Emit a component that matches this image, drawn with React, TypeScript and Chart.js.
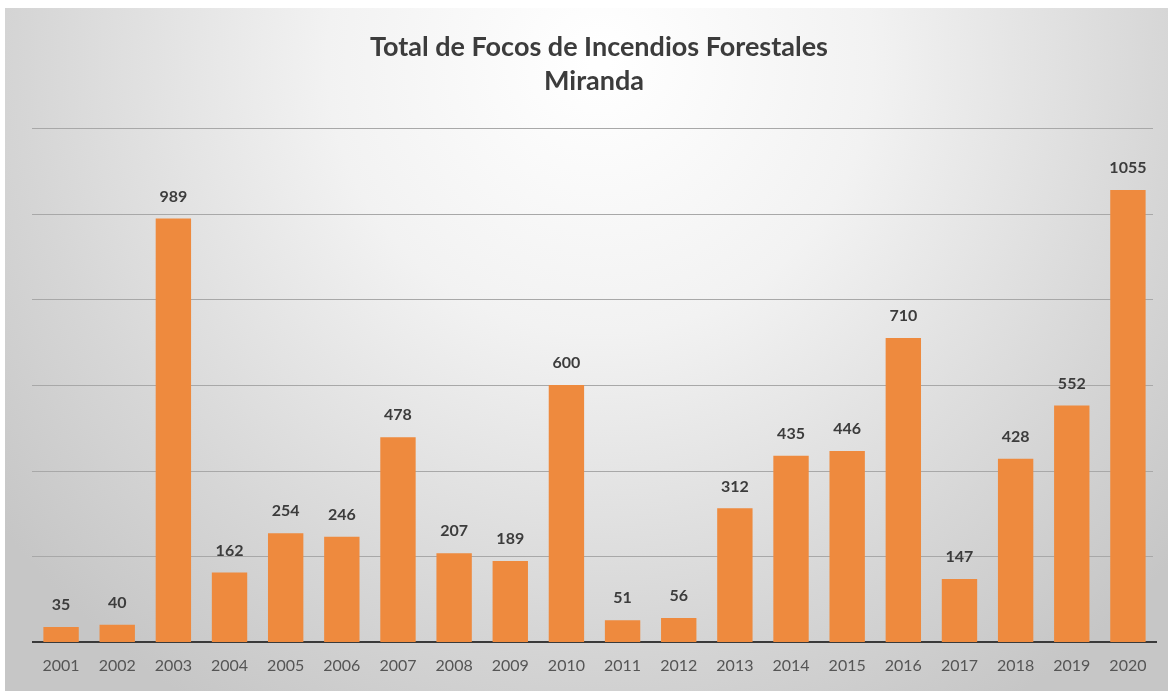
import React, { useEffect, useRef } from "react";
import { Chart, registerables } from "chart.js";

Chart.register(...registerables);

const years = ["2001","2002","2003","2004","2005","2006","2007","2008","2009","2010","2011","2012","2013","2014","2015","2016","2017","2018","2019","2020"];
const focos = [35, 40, 989, 162, 254, 246, 478, 207, 189, 600, 51, 56, 312, 435, 446, 710, 147, 428, 552, 1055];
const titleLines = ["Total de Focos de Incendios Forestales", "Miranda"];

const FONT = "Lato, 'Open Sans', 'DejaVu Sans', sans-serif";

const bgPlugin = {
  id: "bgGradient",
  beforeDraw(chart: any) {
    const { ctx, width, height } = chart;
    ctx.save();
    ctx.fillStyle = "#ffffff";
    ctx.fillRect(0, 0, width, height);
    const x0 = 5, y0 = 8, x1 = 1168, y1 = 691;
    const g = ctx.createRadialGradient(600, 60, 10, 600, 60, 760);
    g.addColorStop(0, "#ffffff");
    g.addColorStop(0.35, "#f2f2f2");
    g.addColorStop(0.75, "#d6d6d6");
    g.addColorStop(1, "#c6c6c6");
    ctx.fillStyle = g;
    ctx.fillRect(x0, y0, x1 - x0, y1 - y0);
    // title
    ctx.fillStyle = "#3c3c3c";
    ctx.font = `bold 27px ${FONT}`;
    ctx.textAlign = "center";
    ctx.textBaseline = "middle";
    ctx.fillText(titleLines[0], 599, 47);
    ctx.fillText(titleLines[1], 594, 81);
    ctx.restore();
  },
  beforeDatasetsDraw(chart: any) {
    const { ctx, chartArea } = chart;
    const y = chart.scales.y;
    ctx.save();
    ctx.strokeStyle = "#a8a8a8";
    ctx.lineWidth = 1.2;
    y.ticks.forEach((t: any) => {
      if (t.value === 0) return;
      const py = Math.round(y.getPixelForValue(t.value)) + 0.5;
      ctx.beginPath();
      ctx.moveTo(chartArea.left - 1, py);
      ctx.lineTo(chartArea.right - 3, py);
      ctx.stroke();
    });
    ctx.restore();
  },
};

const labelPlugin = {
  id: "valueLabels",
  afterDatasetsDraw(chart: any) {
    const { ctx } = chart;
    const meta = chart.getDatasetMeta(0);
    const data = chart.data.datasets[0].data as number[];
    ctx.save();
    ctx.fillStyle = "#3c3c3c";
    ctx.font = `bold 16px ${FONT}`;
    ctx.textAlign = "center";
    ctx.textBaseline = "middle";
    meta.data.forEach((bar: any, i: number) => {
      ctx.fillText(String(data[i]), bar.x, bar.y - 22);
    });
    ctx.restore();
  },
};

export default function App() {
  const ref = useRef<HTMLCanvasElement>(null);
  useEffect(() => {
    document.body.style.margin = "0";
    const chart = new Chart(ref.current!, {
      type: "bar",
      data: {
        labels: years,
        datasets: [
          {
            data: focos,
            backgroundColor: "#ee8a3e",
            barPercentage: 0.63,
            categoryPercentage: 1,
          },
        ],
      },
      options: {
        responsive: false,
        animation: false,
        layout: { padding: { top: 128, left: 33, right: 18, bottom: 0 } },
        plugins: { legend: { display: false }, title: { display: false }, tooltip: { enabled: false } },
        scales: {
          x: {
            grid: { display: false, drawTicks: false },
            border: { display: true, color: "#3a3a3a", width: 2 },
            ticks: { color: "#555555", font: { size: 16, family: FONT }, padding: 14, maxRotation: 0, autoSkip: false },
            afterFit(scale: any) { scale.height = 52; },
          },
          y: {
            min: 0,
            max: 1200,
            ticks: { display: false, stepSize: 200 },
            grid: { display: false, drawTicks: false },
            border: { display: false },
            afterFit(scale: any) { scale.width = 0; },
          },
        },
      },
      plugins: [bgPlugin, labelPlugin],
    });
    return () => chart.destroy();
  }, []);
  return (
    <div style={{ position: "absolute", left: 0, top: 0, width: 1174, height: 694 }}>
      <canvas ref={ref} width={1174} height={694} />
    </div>
  );
}
